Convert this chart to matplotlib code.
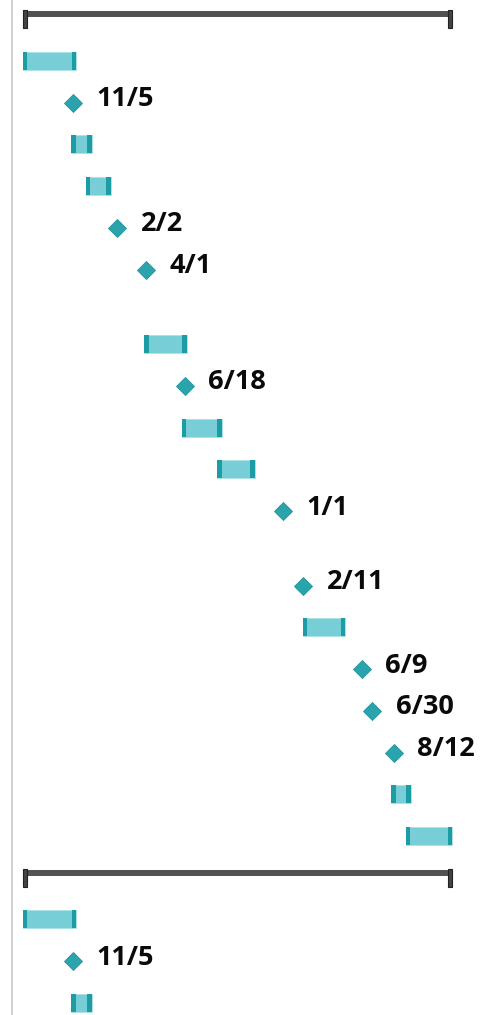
import datetime as dt
import matplotlib
matplotlib.use("Agg")
import matplotlib.pyplot as plt
import matplotlib.dates as mdates
from matplotlib.lines import Line2D

# rows of the gantt view, top to bottom
row_kinds = ["summary", "task", "milestone", "task", "task", "milestone", "milestone",
             "blank", "task", "milestone", "task", "task", "milestone",
             "blank", "milestone", "task", "milestone", "milestone", "milestone",
             "task", "task"]
row_starts = ["2021-07-27", "2021-07-27", "2021-11-05", "2021-11-01", "2021-12-01",
              "2022-02-02", "2022-04-01", None, "2022-03-28", "2022-06-18",
              "2022-06-12", "2022-08-22", "2023-01-01", None, "2023-02-11",
              "2023-02-10", "2023-06-09", "2023-06-30", "2023-08-12",
              "2023-08-07", "2023-09-06"]
row_ends = ["2023-12-08", "2021-11-11", None, "2021-12-13", "2022-01-20",
            None, None, None, "2022-06-22", None,
            "2022-08-31", "2022-11-06", None, None, None,
            "2023-05-07", None, None, None,
            "2023-09-16", "2023-12-08"]

# view: 1 px ~ 2.012 days, 11/5/2021 sits at x=73px
view_start = "2021-06-11"

ROW_H = 41.7
BLANK_H = 33
TOP = -1.5
N_COPIES = 2
FIG_H = 1015

BAR_FILL = "#77ced6"
BAR_CAP = "#1c9ca5"
DIAMOND = "#2ba3ad"
SUMMARY = "#525252"


def d(s):
    return mdates.date2num(dt.datetime.strptime(s, "%Y-%m-%d"))


fig = plt.figure(figsize=(4.91, 10.15), dpi=100)
ax = fig.add_axes([0, 0, 1, 1])
x0 = d(view_start)
x1 = x0 + 491 * 2.0124
ax.set_xlim(x0, x1)
ax.set_ylim(FIG_H, 0)
ax.axis("off")

cap_days = 9
heights = [BLANK_H if k == "blank" else ROW_H for k in row_kinds]
period = sum(heights)

for c in range(N_COPIES):
    top = TOP + c * period
    for kind, s, e, h in zip(row_kinds, row_starts, row_ends, heights):
        y = top + h / 2
        top += h
        if kind == "blank" or y - 10 > FIG_H:
            continue
        if kind == "summary":
            ax.plot([d(s), d(e)], [y - 5, y - 5], color=SUMMARY, lw=4.3,
                    solid_capstyle="butt", zorder=2)
            for cx in (d(s), d(e) - cap_days * 0.85):
                ax.barh(y, cap_days * 0.85, left=cx, height=18, color="#444444",
                        edgecolor="#222222", linewidth=0.8, zorder=3)
        elif kind == "task":
            ax.barh(y, d(e) - d(s), left=d(s), height=18, color=BAR_FILL,
                    edgecolor="#a6e0e5", linewidth=0.5, zorder=2)
            for cx in (d(s), d(e) - cap_days):
                ax.barh(y, cap_days, left=cx, height=18, color=BAR_CAP,
                        linewidth=0, zorder=3)
        else:
            date = dt.datetime.strptime(s, "%Y-%m-%d")
            ax.plot(d(s), y, marker="D", markersize=9.2, color=DIAMOND,
                    markeredgecolor="#23939c", markeredgewidth=0.6, zorder=3)
            ax.text(d(s) + 23.5 * 2.0124, y + 3.5, f"{date.month}/{date.day}",
                    fontsize=19.5, fontweight="bold", family="Open Sans",
                    color="#0a0a0a", ha="left", va="baseline", zorder=4)

# grid divider on the left
fig.add_artist(Line2D([11.5 / 491, 11.5 / 491], [0, 1], color="#c8c8c8", lw=1.2))

fig.savefig("out.png", dpi=100)
